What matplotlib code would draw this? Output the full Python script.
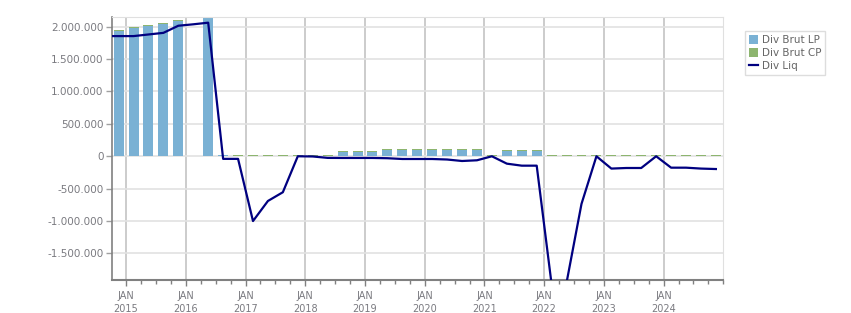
# Div Brut LP / CP (stacked bars) and Div Liq (line), quarterly

import matplotlib
matplotlib.use("Agg")
import matplotlib.pyplot as plt
from matplotlib.patches import Patch
from matplotlib.lines import Line2D
from matplotlib.ticker import FuncFormatter, FixedLocator
import numpy as np

# ------------------------------
# Data (quarters, values)
# ------------------------------

first_quarter = 2014.875   # position of first bar, in years
n_quarters = 41

div_brut_lp = [1930000, 1975000, 2005000, 2035000, 2085000, 0, 2145000, 15000,
               0, 0, 0, 0, 0, 0, 0,
               68000, 68000, 68000,
               102000, 102000, 102000, 102000, 102000, 102000, 102000,
               0,
               78000, 78000, 78000,
               0, 0, 0, 0, 0, 0, 0, 0, 0, 0, 0, 0]

div_brut_cp = [20000, 17000, 15000, 15000, 12000, 0, 0, 12000,
               20000, 20000, 20000, 20000, 20000, 20000, 20000,
               15000, 15000, 15000,
               12000, 12000, 12000, 12000, 12000, 12000, 12000,
               20000,
               22000, 22000, 22000,
               20000, 20000, 20000, 20000, 20000, 20000, 20000, 20000,
               24000, 24000, 24000, 24000]

# line starts one quarter before the first bar
div_liq = [1855000, 1855000, 1855000, 1880000, 1905000, 2015000, 2037000, 2062000,
           -40000, -40000, -1000000, -690000, -555000, 0, -3000, -25000,
           -26000, -26000, -26000, -30000, -42000, -42000, -42000, -50000,
           -73000, -62000, 0, -114000, -145000, -145000, -1980000, -1950000,
           -735000, 0, -190000, -181000, -181000, 0, -176000, -176000,
           -190000, -197000]

years = list(range(2015, 2025))
year_labels = ["JAN\n%d" % y for y in years]

# ------------------------------
# Plot
# ------------------------------

plt.rcParams["font.family"] = ["DejaVu Sans"]

quarters = first_quarter + 0.25 * np.arange(n_quarters)
liq_x = first_quarter + 0.25 * np.arange(-1, n_quarters)

blue = "#7ab1d4"
green = "#8db56f"
navy = "#000080"
grey_txt = "#7a7a80"

fig = plt.figure(figsize=(8.51, 3.13), dpi=100)
ax = fig.add_axes([0.1313, 0.1054, 0.8500 - 0.1313, 0.9447 - 0.1054])

bar_w = 0.167
ax.bar(quarters, div_brut_lp, width=bar_w, color=blue, linewidth=0, zorder=2,
       antialiased=False)
ax.bar(quarters, div_brut_cp, width=bar_w, bottom=div_brut_lp, color=green,
       linewidth=0, zorder=2, antialiased=False)
ax.plot(liq_x, div_liq, color=navy, linewidth=1.6, zorder=3)

ax.set_xlim(2014.76, 2025.0)
ax.set_ylim(-1910000, 2145000)

# axes
ax.xaxis.set_major_locator(FixedLocator(years))
ax.set_xticklabels(year_labels)
ax.xaxis.set_minor_locator(FixedLocator(np.arange(2014.75, 2025.01, 0.25)))
ax.set_yticks(np.arange(-1500000, 2000001, 500000))
ax.yaxis.set_major_formatter(FuncFormatter(lambda v, p: f"{int(v):,}".replace(",", ".")))

ax.tick_params(axis="x", which="major", length=4, width=1, color="#808080",
               labelsize=7, labelcolor=grey_txt, pad=4)
ax.tick_params(axis="x", which="minor", length=3, width=1, color="#808080")
ax.tick_params(axis="y", length=4, width=1, color="#a0a0a0",
               labelsize=7.5, labelcolor=grey_txt, pad=2)
for lbl in ax.get_xticklabels():
    lbl.set_linespacing(1.3)

ax.grid(axis="x", which="major", color="#c4c4c4", linewidth=1.2)
ax.grid(axis="y", color="#e2e2e2", linewidth=1.2)
ax.set_axisbelow(True)

ax.spines["left"].set_color("#808080")
ax.spines["left"].set_linewidth(1.2)
ax.spines["bottom"].set_color("#808080")
ax.spines["bottom"].set_linewidth(1.5)
ax.spines["top"].set_color("#e0e0e0")
ax.spines["right"].set_color("#e0e0e0")

handles = [
    Patch(facecolor=blue, edgecolor="none"),
    Patch(facecolor=green, edgecolor="none"),
    Line2D([0], [0], color=navy, linewidth=1.6),
]
labels = ["Div Brut LP", "Div Brut CP", "Div Liq"]
leg = fig.legend(handles, labels, loc="upper left", bbox_to_anchor=(0.8755, 0.902),
                 fontsize=7.5, frameon=True, fancybox=False, framealpha=1,
                 edgecolor="#dddddd", handlelength=0.85, handleheight=0.9,
                 handletextpad=0.35, labelspacing=0.3, borderpad=0.4,
                 borderaxespad=0, labelcolor="#666666")
leg.get_frame().set_linewidth(1)

plt.savefig("out.png", dpi=100)
